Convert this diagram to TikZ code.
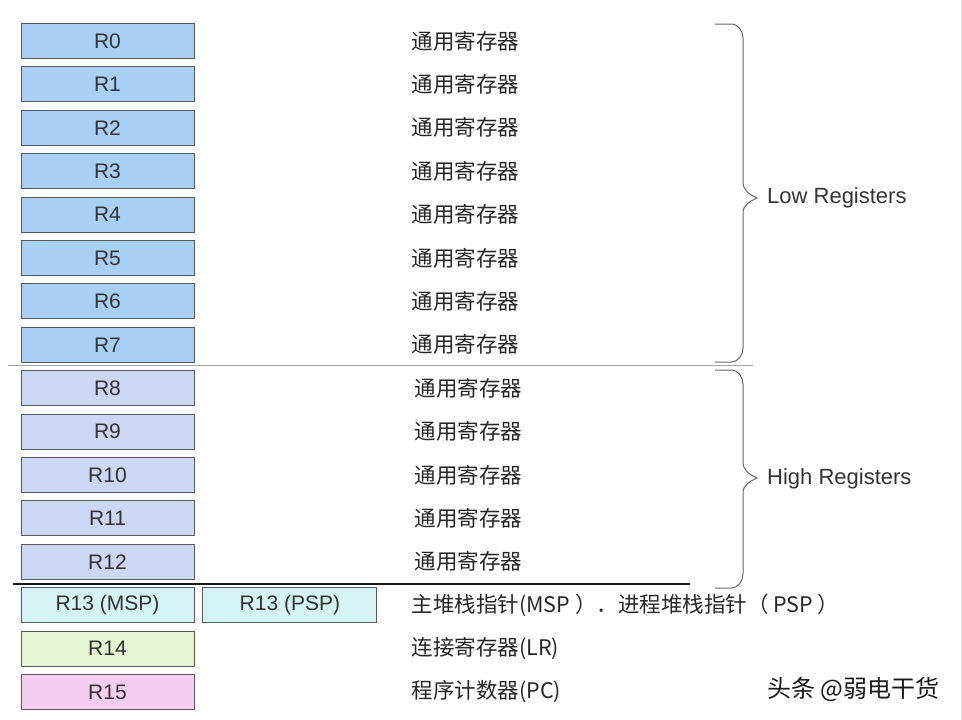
\documentclass[tikz,border=0pt]{standalone}
\usepackage{fontspec}
\setmainfont{Liberation Sans}
\newfontfamily\cjk{Noto Sans CJK SC}
\usetikzlibrary{positioning}
\definecolor{lowblue}{HTML}{A8D0F5}
\definecolor{highblue}{HTML}{CCD6F5}
\definecolor{spcyan}{HTML}{D4F4F4}
\definecolor{lrgreen}{HTML}{E6F4D2}
\definecolor{pcpink}{HTML}{F4CDF0}

\begin{document}
\begin{tikzpicture}[x=1pt, y=-1pt, node distance=7.5pt and 217pt,
  reg/.style={draw=black!65, line width=0.9pt, minimum width=173pt, minimum height=35pt,
    inner sep=0pt, font=\fontsize{21}{21}\selectfont, text=black!80},
  desc/.style={font=\cjk\fontsize{21.5}{21.5}\selectfont, text=black!85, inner sep=0pt},
  brc/.style={draw=black!60, line width=1pt},
  grp/.style={font=\fontsize{22}{22}\selectfont, text=black!80, anchor=west, inner sep=0pt}]
  \useasboundingbox (0,0) rectangle (962,720);

  % Low registers
  \node[reg, fill=lowblue] (R0) at (107.5,41) {R0};
  \node[reg, fill=lowblue, below=of R0] (R1) {R1};
  \node[reg, fill=lowblue, below=of R1] (R2) {R2};
  \node[reg, fill=lowblue, below=of R2] (R3) {R3};
  \node[reg, fill=lowblue, below=of R3] (R4) {R4};
  \node[reg, fill=lowblue, below=of R4] (R5) {R5};
  \node[reg, fill=lowblue, below=of R5] (R6) {R6};
  \node[reg, fill=lowblue, below=of R6] (R7) {R7};
  \node[desc, right=of R0] (d0) {通用寄存器};
  \node[desc, right=of R1] (d1) {通用寄存器};
  \node[desc, right=of R2] (d2) {通用寄存器};
  \node[desc, right=of R3] (d3) {通用寄存器};
  \node[desc, right=of R4] (d4) {通用寄存器};
  \node[desc, right=of R5] (d5) {通用寄存器};
  \node[desc, right=of R6] (d6) {通用寄存器};
  \node[desc, right=of R7] (d7) {通用寄存器};

  % High registers
  \node[reg, fill=highblue, below=of R7] (R8) {R8};
  \node[reg, fill=highblue, below=of R8] (R9) {R9};
  \node[reg, fill=highblue, below=of R9] (R10) {R10};
  \node[reg, fill=highblue, below=of R10] (R11) {R11};
  \node[reg, fill=highblue, below=of R11] (R12) {R12};
  \node[desc, right=220pt of R8] (d8) {通用寄存器};
  \node[desc, right=220pt of R9] (d9) {通用寄存器};
  \node[desc, right=220pt of R10] (d10) {通用寄存器};
  \node[desc, right=220pt of R11] (d11) {通用寄存器};
  \node[desc, right=220pt of R12] (d12) {通用寄存器};

  % Special registers
  \node[reg, fill=spcyan, below=of R12] (R13m) {R13 (MSP)};
  \node[reg, fill=spcyan, minimum width=174pt, right=8pt of R13m] (R13p) {R13 (PSP)};
  \node[reg, fill=lrgreen, below=of R13m] (R14) {R14};
  \node[reg, fill=pcpink, below=of R14] (R15) {R15};
  \node[desc, right=34pt of R13p] (d13) {主堆栈指针(MSP ）．进程堆栈指针（ PSP ）};
  \node[desc, right=of R14] (d14) {连接寄存器(LR)};
  \node[desc, right=of R15] (d15) {程序计数器(PC)};

  % Separators
  \coordinate (sepA) at (8,365);
  \coordinate (sepB) at (753,365);
  \coordinate (sepC) at (13,584);
  \coordinate (sepD) at (690,584);
  \draw[black!35, line width=1pt] (sepA) -- (sepB);
  \draw[black!90, line width=1.2pt] (sepC) -- (sepD);

  % Braces
  \draw[brc] (715,24) -- (731,24) to[out=0,in=90] (743,38) -- (743,182)
    to[out=-90,in=155] (757,198) to[out=-155,in=90] (743,213) -- (743,348)
    to[out=-90,in=0] (731,362) -- (715,362);
  \draw[brc] (715,370) -- (731,370) to[out=0,in=90] (743,384) -- (743,462)
    to[out=-90,in=155] (757,478) to[out=-155,in=90] (743,493) -- (743,574)
    to[out=-90,in=0] (731,588) -- (715,588);
  \node[grp] (low) at (767,198) {Low Registers};
  \node[grp] (high) at (767,479) {High Registers};

  % Watermark and edge
  \node[desc, anchor=west, font=\cjk\fontsize{24}{24}\selectfont, text=black!90] (mark) at (767,689) {头条 @弱电干货};
  \draw[black!12] (961.5,0) -- (961.5,720);
\end{tikzpicture}
\end{document}
